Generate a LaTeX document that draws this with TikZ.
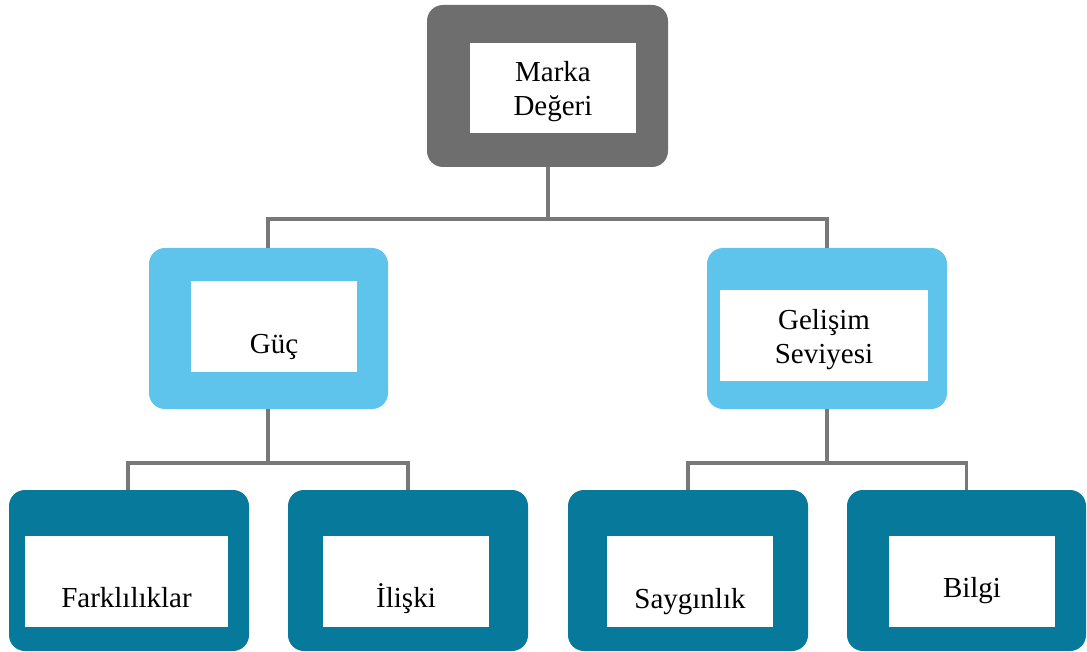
\documentclass[tikz,border=0pt]{standalone}
\usepackage{fontspec}
\setmainfont{Liberation Serif}
\usetikzlibrary{positioning}
\definecolor{rootgray}{RGB}{110,110,110}
\definecolor{midblue}{RGB}{94,196,235}
\definecolor{leafteal}{RGB}{7,121,155}
\definecolor{linkgray}{RGB}{120,120,120}
\tikzset{
  frame/.style={rounded corners=16pt, inner sep=0pt, draw=none},
  rootframe/.style={frame, fill=rootgray},
  midframe/.style={frame, fill=midblue},
  leafframe/.style={frame, fill=leafteal},
  panel/.style={fill=white, draw=none, inner sep=0pt},
  lbl/.style={inner sep=0pt, font=\fontsize{29}{34}\selectfont, align=center},
  link/.style={draw=linkgray, line width=3.5pt},
}
\begin{document}
\begin{tikzpicture}[x=1pt, y=-1pt]
\useasboundingbox (0,0) rectangle (1087,652);

% outer rounded frames
\node[rootframe, minimum width=241pt, minimum height=162pt] (root) at (547.5,86) {};
\node[midframe, minimum width=239pt, minimum height=161pt] (guc) at (268.5,328.5) {};
\node[midframe, minimum width=240pt, minimum height=161pt] (gel) at (827,328.5) {};
\node[leafframe, minimum width=240pt, minimum height=161pt] (far) at (129,570.5) {};
\node[leafframe, minimum width=240pt, minimum height=161pt] (ili) at (408,570.5) {};
\node[leafframe, minimum width=240pt, minimum height=161pt] (say) at (688,570.5) {};
\node[leafframe, minimum width=239pt, minimum height=161pt] (bil) at (966.5,570.5) {};

% white panels
\node[panel, minimum width=166pt, minimum height=90pt] (rootp) at (553,88) {};
\node[panel, minimum width=166pt, minimum height=91pt] (gucp) at (274,326.5) {};
\node[panel, minimum width=208pt, minimum height=91pt] (gelp) at (824,335.5) {};
\node[panel, minimum width=203pt, minimum height=91pt] (farp) at (126.5,581.5) {};
\node[panel, minimum width=166pt, minimum height=91pt] (ilip) at (406,581.5) {};
\node[panel, minimum width=166pt, minimum height=91pt] (sayp) at (690,581.5) {};
\node[panel, minimum width=166pt, minimum height=91pt] (bilp) at (972,581.5) {};

% labels
\node[lbl] (rootl) at (553,92) {Marka\\Değeri};
\node[lbl, anchor=base] (gucl) at (274,353) {Güç};
\node[lbl] (gell) at (824,340) {Gelişim\\Seviyesi};
\node[lbl, anchor=base] (farl) at (126.5,607) {Farklılıklar};
\node[lbl, anchor=base] (ilil) at (406,607) {İlişki};
\node[lbl, anchor=base] (sayl) at (690,608) {Saygınlık};
\node[lbl, anchor=base] (bill) at (972,597) {Bilgi};

% connectors
\coordinate (busA) at (548,219);
\coordinate (busB) at (268,463);
\coordinate (busC) at (827,463);
\draw[link] (root.south -| busA) -- (busA);
\draw[link] (guc.north -| busB) |- (busA) -| (gel.north);
\draw[link] (guc.south -| busB) -- (busB);
\draw[link] (far.north -| 128,0) |- (busB) -| (ili.north);
\draw[link] (gel.south) -- (busC);
\draw[link] (say.north) |- (busC) -| (bil.north);
\end{tikzpicture}
\end{document}
